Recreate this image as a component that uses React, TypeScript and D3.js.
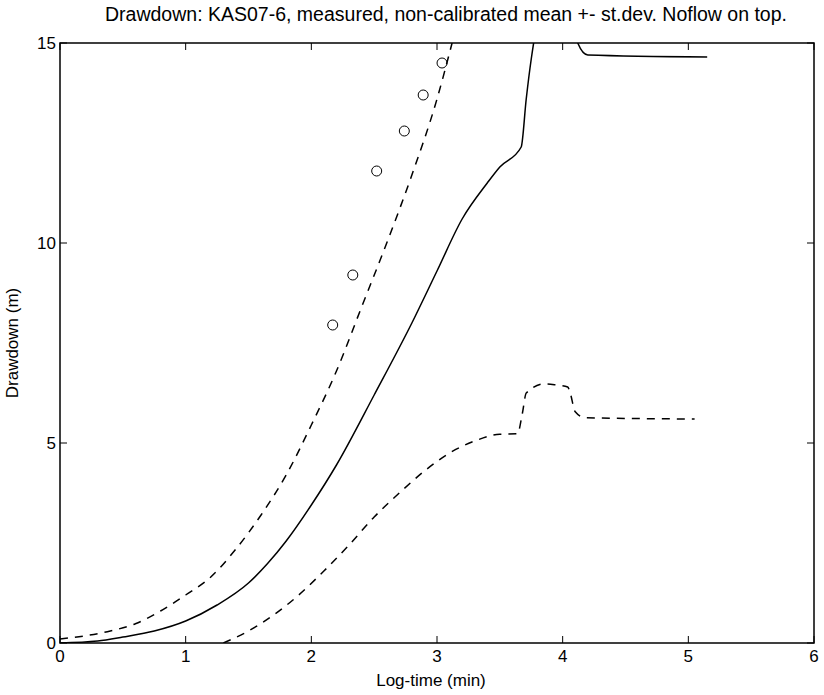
import React, { useEffect, useRef } from 'react'
import * as d3 from 'd3'

// measured drawdown (log-time, m)
const measuredT = [2.17, 2.33, 2.52, 2.74, 2.89, 3.04]
const measuredS = [7.95, 9.2, 11.8, 12.8, 13.7, 14.5]

// mean of non-calibrated runs
const meanT = [0, 0.3, 0.5, 0.75, 1.0, 1.25, 1.5, 1.65, 1.8, 2.0, 2.2, 2.5, 2.8, 3.0, 3.2, 3.4, 3.5, 3.67, 3.71, 3.75, 3.85, 4.08, 4.12, 4.2, 5.15]
const meanS = [0, 0.05, 0.15, 0.3, 0.55, 0.95, 1.5, 1.98, 2.55, 3.45, 4.45, 6.2, 8.0, 9.3, 10.6, 11.5, 11.9, 12.4, 13.6, 14.6, 16, 16, 15, 14.7, 14.65]

// mean + st.dev
const upperT = [0, 0.2, 0.4, 0.6, 0.8, 1.0, 1.2, 1.4, 1.6, 1.8, 2.0, 2.2, 2.4, 2.6, 2.8, 3.0, 3.12]
const upperS = [0.1, 0.18, 0.3, 0.48, 0.8, 1.2, 1.65, 2.35, 3.2, 4.2, 5.45, 6.8, 8.4, 10.0, 11.7, 13.6, 15]

// mean - st.dev
const lowerT = [1.3, 1.5, 1.7, 1.9, 2.1, 2.3, 2.5, 2.7, 2.9, 3.1, 3.3, 3.5, 3.64, 3.68, 3.71, 3.86, 3.95, 4.04, 4.06, 4.1, 4.18, 5.05]
const lowerS = [0, 0.3, 0.7, 1.2, 1.8, 2.45, 3.15, 3.75, 4.3, 4.75, 5.05, 5.22, 5.23, 5.75, 6.25, 6.48, 6.45, 6.4, 6.25, 5.78, 5.63, 5.6]

const xTicks = [0, 1, 2, 3, 4, 5, 6]
const yTicks = [0, 5, 10, 15]

export default function App() {
  const ref = useRef<SVGSVGElement>(null)

  useEffect(() => {
    const margin = { top: 43, right: 10, bottom: 52, left: 60 }
    const width = 824 - margin.left - margin.right
    const height = 695 - margin.top - margin.bottom
    const svg = d3.select(ref.current)
    svg.selectAll('*').remove()

    const x = d3.scaleLinear().domain([0, 6]).range([0, width])
    const y = d3.scaleLinear().domain([0, 15]).range([height, 0])

    svg.append('defs').append('clipPath').attr('id', 'plotclip')
      .append('rect').attr('width', width).attr('height', height)

    const g = svg.append('g').attr('transform', 'translate(' + margin.left + ',' + margin.top + ')')
    const font = '"Liberation Sans", Arial, sans-serif'

    svg.append('text')
      .attr('x', 446)
      .attr('y', 21)
      .attr('text-anchor', 'middle')
      .style('font-family', font)
      .style('font-size', '19.5px')
      .text('Drawdown: KAS07-6, measured, non-calibrated mean +- st.dev. Noflow on top.')

    // frame
    g.append('rect')
      .attr('width', width).attr('height', height)
      .attr('fill', 'none').attr('stroke', 'black').attr('stroke-width', 1.5)

    // ticks, matlab style (inward, all four sides)
    const tl = 7
    xTicks.forEach((t) => {
      g.append('line').attr('x1', x(t)).attr('x2', x(t)).attr('y1', height).attr('y2', height - tl).attr('stroke', 'black')
      g.append('line').attr('x1', x(t)).attr('x2', x(t)).attr('y1', 0).attr('y2', tl).attr('stroke', 'black')
      g.append('text')
        .attr('x', x(t)).attr('y', height + 19)
        .attr('text-anchor', 'middle')
        .style('font-family', font).style('font-size', '17px')
        .text(t)
    })
    yTicks.forEach((t) => {
      g.append('line').attr('x1', 0).attr('x2', tl).attr('y1', y(t)).attr('y2', y(t)).attr('stroke', 'black')
      g.append('line').attr('x1', width).attr('x2', width - tl).attr('y1', y(t)).attr('y2', y(t)).attr('stroke', 'black')
      g.append('text')
        .attr('x', -4).attr('y', y(t)).attr('dy', '0.35em')
        .attr('text-anchor', 'end')
        .style('font-family', font).style('font-size', '17px')
        .text(t)
    })

    g.append('text')
      .attr('x', width / 2 - 6).attr('y', height + 43)
      .attr('text-anchor', 'middle')
      .style('font-family', font).style('font-size', '17px')
      .text('Log-time (min)')

    g.append('text')
      .attr('transform', 'translate(-42,' + height / 2 + ') rotate(-90)')
      .attr('text-anchor', 'middle')
      .style('font-family', font).style('font-size', '17px')
      .text('Drawdown (m)')

    const line = d3.line<[number, number]>()
      .x((d) => x(d[0]))
      .y((d) => y(d[1]))
      .curve(d3.curveMonotoneX)

    const plot = g.append('g').attr('clip-path', 'url(#plotclip)')

    const series = [
      { t: upperT, s: upperS, dash: '8,7' },
      { t: lowerT, s: lowerS, dash: '8,7' },
      { t: meanT, s: meanS, dash: null },
    ]
    series.forEach((sr) => {
      const pts = sr.t.map((t, i) => [t, sr.s[i]] as [number, number])
      plot.append('path')
        .attr('d', line(pts))
        .attr('fill', 'none')
        .attr('stroke', 'black')
        .attr('stroke-width', 1.5)
        .attr('stroke-dasharray', sr.dash)
    })

    plot.selectAll('circle.meas')
      .data(measuredT)
      .enter()
      .append('circle')
      .attr('cx', (d) => x(d))
      .attr('cy', (d, i) => y(measuredS[i]))
      .attr('r', 5)
      .attr('fill', 'none')
      .attr('stroke', 'black')
      .attr('stroke-width', 1)
  }, [])

  return <svg ref={ref} width={824} height={695} style={{ display: 'block', position: 'absolute', left: 0, top: 0, background: 'white' }} />
}
